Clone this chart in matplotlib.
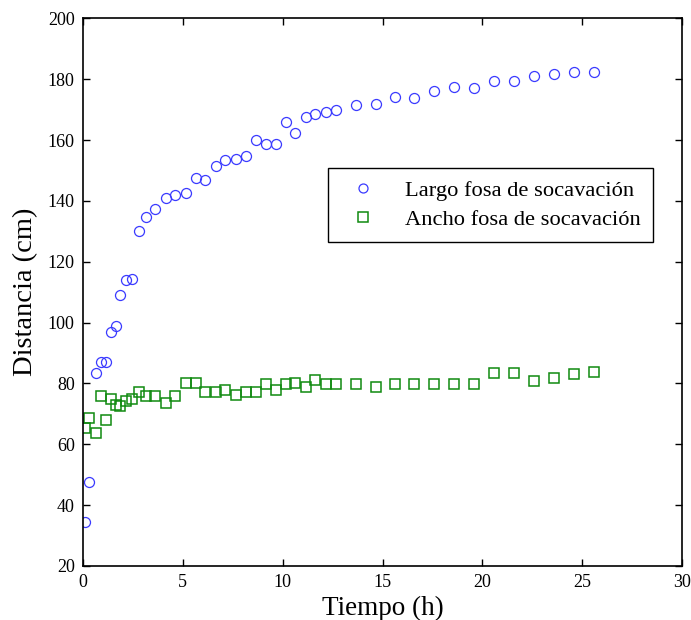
import matplotlib
matplotlib.use("Agg")
import matplotlib.pyplot as plt

# tiempo de medicion (h)
tiempo = [0.1, 0.3, 0.65, 0.9, 1.15, 1.4, 1.65, 1.85, 2.15, 2.45,
          2.8, 3.15, 3.6, 4.15, 4.6, 5.15, 5.65, 6.1, 6.65, 7.1,
          7.65, 8.15, 8.65, 9.15, 9.65, 10.15, 10.6, 11.15, 11.6, 12.15,
          12.65, 13.65, 14.65, 15.6, 16.6, 17.6, 18.6, 19.6, 20.6, 21.6,
          22.6, 23.6, 24.6, 25.6]

# largo de la fosa (cm)
largo = [34.6, 47.6, 83.3, 87.1, 87.1, 96.8, 99.0, 109.0, 114.0, 114.3,
         130.1, 134.7, 137.4, 140.9, 141.9, 142.7, 147.6, 146.9, 151.5, 153.5,
         153.8, 154.9, 159.9, 158.7, 158.7, 166.0, 162.2, 167.6, 168.7, 169.1,
         169.9, 171.4, 171.9, 174.2, 173.7, 176.1, 177.6, 177.1, 179.5, 179.5,
         181.1, 181.8, 182.3, 182.3]

# ancho de la fosa (cm)
ancho = [65.5, 68.8, 63.8, 76.0, 68.0, 74.8, 73.0, 72.6, 74.2, 74.8,
         77.1, 76.0, 76.0, 73.7, 76.0, 80.0, 80.3, 77.3, 77.3, 78.0,
         76.1, 77.3, 77.3, 79.9, 78.0, 79.9, 80.3, 79.0, 81.0, 79.8,
         79.8, 79.8, 78.7, 79.8, 79.8, 79.8, 79.8, 79.8, 83.3, 83.3,
         80.9, 81.7, 83.0, 83.9]

plt.rcParams['font.family'] = ['Liberation Serif', 'DejaVu Serif']

fig = plt.figure(figsize=(6.91, 6.20), dpi=100)
ax = fig.add_axes([0.1201, 0.0871, 0.867, 0.8831])

ax.plot(tiempo, largo, 'o', markersize=7.2, markerfacecolor='none',
        markeredgecolor='#3a3aff', markeredgewidth=0.9,
        label='Largo fosa de socavación')
ax.plot(tiempo, ancho, 's', markersize=7.4, markerfacecolor='none',
        markeredgecolor='#108a10', markeredgewidth=1.1,
        label='Ancho fosa de socavación')

ax.set_xlim(0, 30)
ax.set_ylim(20, 200)
ax.set_xticks(range(0, 31, 5))
ax.set_yticks(range(20, 201, 20))
ax.tick_params(direction='in', top=True, right=True, length=5, width=1,
               labelsize=13, pad=6)
for s in ax.spines.values():
    s.set_linewidth(1.2)

ax.set_xlabel('Tiempo (h)', fontsize=19.5, labelpad=3)
ax.set_ylabel('Distancia (cm)', fontsize=20.5, labelpad=7)

leg = ax.legend(loc='upper left', bbox_to_anchor=(0.409, 0.727),
                fontsize=16.2, fancybox=False, framealpha=1,
                edgecolor='black', borderpad=0.55, handletextpad=0.85,
                labelspacing=0.35, borderaxespad=0, markerscale=0.9)
leg.get_frame().set_linewidth(1.0)

fig.savefig('out.png', dpi=100)
